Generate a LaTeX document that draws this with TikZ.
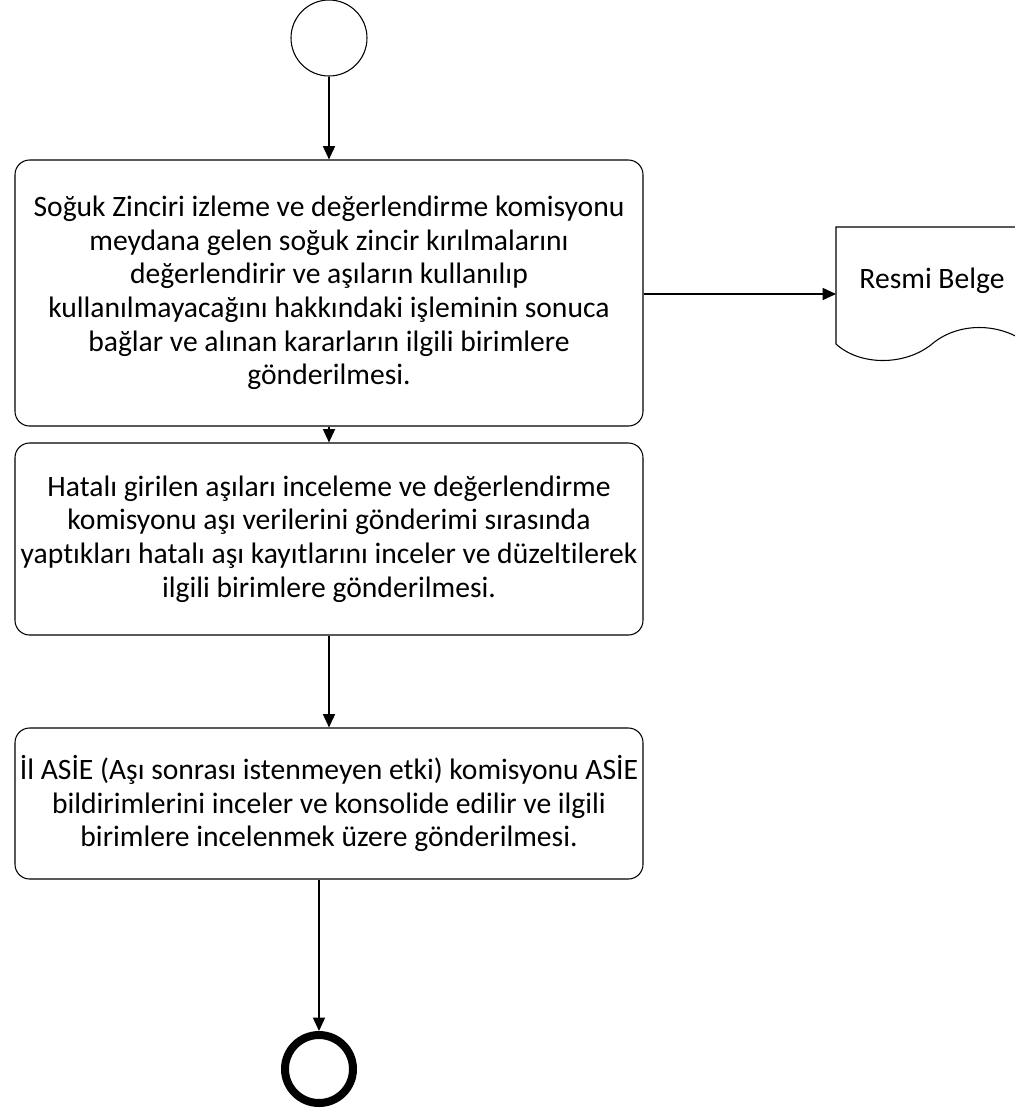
\documentclass[tikz,border=0pt]{standalone}
\usepackage{fontspec}
\setmainfont{Carlito}[Ligatures=NoCommon]
\usepackage{tikz}
\usetikzlibrary{shapes,arrows.meta,positioning,calc}

\begin{document}
\begin{tikzpicture}[x=0.75pt, y=-0.75pt,
    task/.style={draw, rounded corners=11pt, line width=0.8pt, minimum width=471pt, align=center, inner sep=2pt, font=\fontsize{22.2}{25.2}\selectfont},
    flow/.style={line width=1.1pt, -{Triangle[length=10pt,width=9pt]}}]
    \useasboundingbox (0,0) rectangle (1015,1108);

    \node [circle, draw, line width=0.8pt, minimum size=57pt, inner sep=0pt] (start) at (329,38) {};

    \node [task, minimum height=199.5pt] (zincir) at (329,293) {Soğuk Zinciri izleme ve değerlendirme komisyonu\\ meydana gelen soğuk zincir kırılmalarını\\ değerlendirir ve aşıların kullanılıp\\ kullanılmayacağını hakkındaki işleminin sonuca\\ bağlar ve alınan kararların ilgili birimlere\\ gönderilmesi.};
    \node [task, minimum height=144pt] (hatali) at (329,539) {Hatalı girilen aşıları inceleme ve değerlendirme\\ komisyonu aşı verilerini gönderimi sırasında\\ yaptıkları hatalı aşı kayıtlarını inceler ve düzeltilerek\\ ilgili birimlere gönderilmesi.};
    \node [task, minimum height=113.25pt] (asie) at (329,803.5) {İl ASİE (Aşı sonrası istenmeyen etki) komisyonu ASİE\\ bildirimlerini inceler ve konsolide edilir ve ilgili\\ birimlere incelenmek üzere gönderilmesi.};

    \node [circle, draw, line width=6pt, minimum size=51pt, inner sep=0pt] (finish) at (319,1069) {};

    % belge
    \draw [line width=0.8pt] (1028,344) -- (1028,227) -- (836,227) -- (836,344)
        .. controls (860,366) and (905,366) .. (932,344)
        .. controls (958,322) and (1000,322) .. (1028,344);
    \coordinate (belge) at (836,294);
    \node [font=\fontsize{22.2}{25.2}\selectfont] (belgeyazi) at (932,281) {Resmi Belge};

    \draw [flow] (start) -- (zincir);
    \draw [flow] (zincir) -- (hatali);
    \draw [flow] (hatali) -- (asie);
    \draw [flow] (asie.south -| finish) -- (finish);
    \draw [flow] (zincir.east |- belge) -- (belge);
\end{tikzpicture}
\end{document}
